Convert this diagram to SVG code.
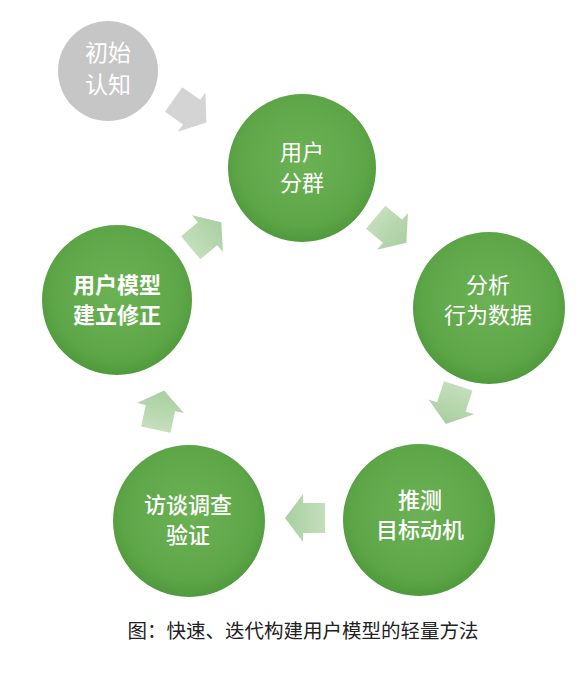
<svg xmlns="http://www.w3.org/2000/svg" width="587" height="681" viewBox="0 0 587 681">
<style>
.bg{fill:#ffffff}
.c{fill:url(#g)}
.gray{fill:#c6c6c6}
.t{font-family:"Noto Sans CJK SC","Noto Sans",sans-serif;font-size:22px;fill:#ffffff;text-anchor:middle}
.b{font-weight:bold}
.m{font-weight:500}
.arr{fill:url(#ag)}
.garr{fill:#d4d4d4}
.cap{font-family:"Noto Sans CJK SC","Noto Sans",sans-serif;font-size:19.5px;fill:#222222;text-anchor:middle}
</style>
<defs>
<radialGradient id="g" cx="0.5" cy="0.45" r="0.55">
<stop offset="0" stop-color="#6cb255"/>
<stop offset="0.8" stop-color="#5da648"/>
<stop offset="1" stop-color="#4f9a3c"/>
</radialGradient>
<linearGradient id="ag" x1="0" y1="0" x2="1" y2="0">
<stop offset="0" stop-color="#c3dfbb"/>
<stop offset="1" stop-color="#a9cfa0"/>
</linearGradient>
<path id="a" d="M-20,-15 L2,-15 L2,-24 L20,0 L2,24 L2,15 L-20,15 Z"/>
</defs>
<rect class="bg" x="0" y="0" width="587" height="681"/>
<g id="connectors">
<use href="#a" class="garr" transform="translate(190,111) rotate(35)"/>
<use href="#a" class="arr" transform="translate(391,230) rotate(40)"/>
<use href="#a" class="arr" transform="translate(452,405) rotate(108)"/>
<use href="#a" class="arr" transform="translate(305,518) rotate(180)"/>
<use href="#a" class="arr" transform="translate(160,410) rotate(-78)"/>
<use href="#a" class="arr" transform="translate(206,235) rotate(-40)"/>
</g>
<g id="n0">
<circle class="gray" cx="108" cy="71" r="50"/>
<text class="t" x="108" y="61" style="font-size:23px">初始</text>
<text class="t" x="108" y="93" style="font-size:23px">认知</text>
</g>
<g id="n1">
<circle class="c" cx="302" cy="168" r="74"/>
<text class="t" x="302" y="160">用户</text>
<text class="t" x="302" y="191">分群</text>
</g>
<g id="n2">
<circle class="c" cx="489" cy="308" r="76"/>
<text class="t" x="488" y="293">分析</text>
<text class="t" x="488" y="323">行为数据</text>
</g>
<g id="n3">
<circle class="c" cx="419" cy="520" r="76"/>
<text class="t m" x="420" y="508">推测</text>
<text class="t m" x="420" y="538">目标动机</text>
</g>
<g id="n4">
<circle class="c" cx="189" cy="521" r="76"/>
<text class="t m" x="188" y="513">访谈调查</text>
<text class="t m" x="188" y="543">验证</text>
</g>
<g id="n5">
<circle class="c" cx="117" cy="300" r="75"/>
<text class="t b" x="117" y="293">用户模型</text>
<text class="t b" x="117" y="323">建立修正</text>
</g>
<text class="cap" x="303" y="638">图：快速、迭代构建用户模型的轻量方法</text>
</svg>
